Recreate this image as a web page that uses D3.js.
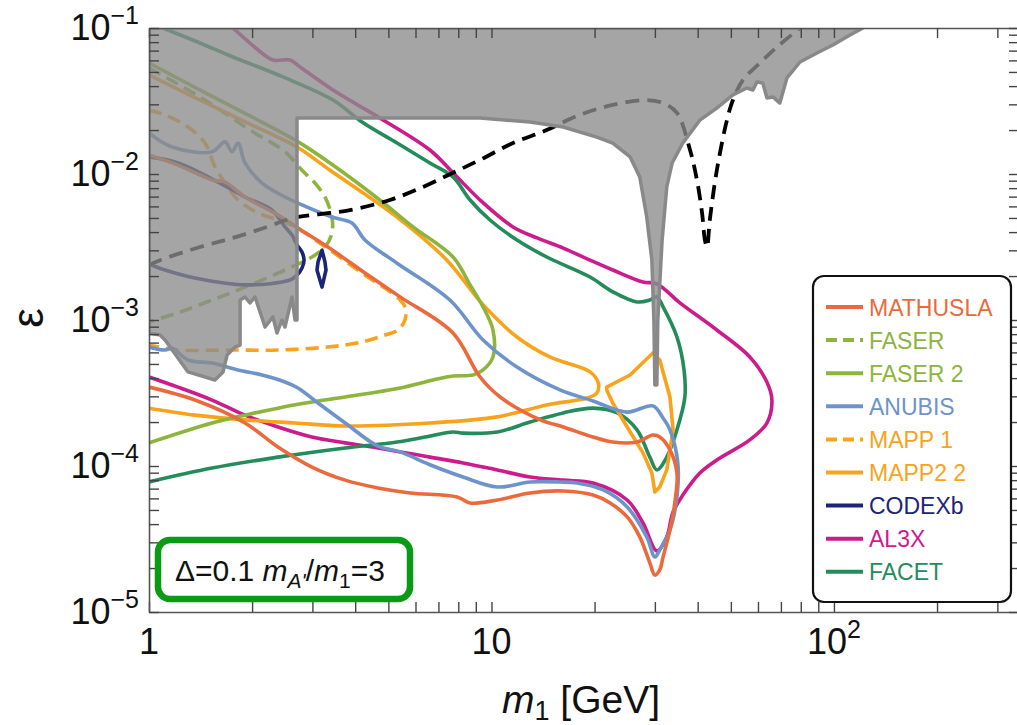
<!DOCTYPE html>
<html>
<head>
<meta charset="utf-8">
<script src="https://cdn.jsdelivr.net/npm/d3@7"></script>
<style>
  body { margin: 0; background: #fff; }
  text { font-family: "Liberation Sans", Arial, Helvetica, sans-serif; }
</style>
</head>
<body>
<svg id="chart" width="1017" height="725"></svg>
<script>
// values: [m1 in GeV, epsilon]
const mathusla = [[1.00,1.35e-2],[1.215,1.15e-2],[1.528,9.1e-3],[1.667,8.8e-3],[1.907,6.96e-3],[2.38,5.24e-3],[2.72,4.27e-3],[3.33,3.16e-3],[4.27,2.1e-3],[5.41,1.44e-3],[7.72,8.15e-4],[9.26,4.07e-4],[10.6,2.97e-4],[13.9,2.07e-4],[16.2,1.85e-4],[19.8,1.58e-4],[22.6,1.46e-4],[26.6,1.46e-4],[29.6,1.63e-4],[31.0,1.58e-4],[33.2,1.29e-4],[34.8,8.96e-5],[34.3,5.58e-5],[33.2,3.65e-5],[31.7,2.38e-5],[31.0,1.94e-5],[30.0,1.79e-5],[29.0,2.17e-5],[27.1,3.27e-5],[24.9,4.48e-5],[22.2,5.58e-5],[19.8,6.32e-5],[16.2,6.74e-5],[12.96,6.54e-5],[10.4,5.85e-5],[8.66,5.58e-5],[7.93,6.14e-5],[5.78,6.54e-5],[4.66,7.07e-5],[3.74,8.0e-5],[2.99,9.84e-5],[2.38,1.35e-4],[1.907,1.97e-4],[1.362,2.83e-4],[1.0,3.47e-4]];
const faser = [[1.0,5.32e-2],[1.409,3.37e-2],[1.972,2.0e-2],[2.495,1.42e-2],[2.797,1.06e-2],[3.053,8.67e-3],[3.265,6.96e-3],[3.42,5.07e-3],[3.42,3.94e-3],[3.265,3.16e-3],[2.99,2.70e-3],[2.615,2.31e-3],[1.907,1.68e-3],[1.528,1.37e-3],[1.215,1.12e-3],[1.0,9.7e-4]];
const faser2 = [[1.0,5.76e-2],[1.409,3.76e-2],[1.972,2.50e-2],[2.705,1.68e-2],[3.377,1.19e-2],[4.72,6.64e-3],[5.90,4.34e-3],[7.72,2.70e-3],[8.66,1.74e-3],[9.45,1.23e-3],[10.1,8.54e-4],[10.1,5.58e-4],[9.45,4.55e-4],[8.83,4.20e-4],[7.72,4.13e-4],[6.75,3.88e-4],[5.41,3.42e-4],[3.74,2.97e-4],[2.99,2.74e-4],[2.38,2.49e-4],[1.907,2.23e-4],[1.528,1.97e-4],[1.0,1.44e-4]];
const anubis = [[1.0,1.91e-2],[1.167,1.53e-2],[1.528,1.42e-2],[1.667,1.66e-2],[1.747,1.42e-2],[1.82,1.63e-2],[1.907,1.19e-2],[2.138,8.67e-3],[2.495,6.96e-3],[2.723,6.32e-3],[3.42,5.07e-3],[3.915,4.61e-3],[4.27,3.53e-3],[5.30,2.45e-3],[7.56,1.37e-3],[9.45,7.3e-4],[11.87,4.76e-4],[15.85,3.32e-4],[19.8,2.79e-4],[24.9,2.34e-4],[29.6,2.58e-4],[31.7,2.13e-4],[33.2,1.77e-4],[35.0,1.05e-4],[34.8,6.14e-5],[33.2,3.65e-5],[31.0,2.66e-5],[30.0,2.38e-5],[28.4,3.27e-5],[24.9,5.24e-5],[21.2,6.85e-5],[17.77,7.65e-5],[15.85,7.77e-5],[12.96,7.77e-5],[10.4,7.18e-5],[8.26,8.41e-5],[6.61,1.02e-4],[5.41,1.25e-4],[4.66,1.37e-4],[3.74,1.97e-4],[3.115,2.70e-4],[2.723,3.42e-4],[2.495,3.76e-4],[2.138,4.20e-4],[1.82,4.55e-4],[1.528,5.07e-4],[1.30,5.32e-4],[1.167,6.43e-4],[1.114,6.23e-4],[1.0,6.53e-4]];
const mapp1 = [[1.0,2.74e-2],[1.114,2.54e-2],[1.30,2.10e-2],[1.457,1.63e-2],[1.558,1.12e-2],[1.667,8.67e-3],[1.82,6.64e-3],[2.081,5.41e-3],[2.38,4.84e-3],[2.669,4.34e-3],[3.377,3.01e-3],[4.27,2.03e-3],[5.33,1.42e-3],[5.59,1.23e-3],[5.59,1e-3],[5.33,8.54e-4],[4.89,7.89e-4],[4.19,7.06e-4],[3.33,6.53e-4],[2.38,6.23e-4],[1.70,6.23e-4],[1.215,6.23e-4],[1.0,6.74e-4]];
const mapp2 = [[1.0,4.77e-2],[1.409,3.21e-2],[1.972,2.20e-2],[2.705,1.53e-2],[3.377,1.06e-2],[5.30,5.07e-3],[7.41,2.57e-3],[9.45,1.27e-3],[11.87,7.65e-4],[14.8,5.58e-4],[19.4,4.41e-4],[20.5,3.70e-4],[20.3,3.16e-4],[19.0,2.92e-4],[14.5,2.62e-4],[10.4,2.17e-4],[6.61,1.97e-4],[3.74,1.88e-4],[2.669,1.97e-4],[1.907,2.07e-4],[1.362,2.23e-4],[1.0,2.49e-4]];
const mapp2Lobe = [[21.7,3.47e-4],[25.4,4.20e-4],[29.6,5.94e-4],[31.0,5.32e-4],[33.2,2.97e-4],[33.9,1.77e-4],[32.5,9.4e-5],[31.0,7.18e-5],[30.0,6.64e-5],[29.4,8.96e-5],[27.7,1.23e-4],[24.9,1.85e-4],[22.6,2.70e-4],[21.7,3.32e-4]];
const codexb = [[1.0,1.31e-2],[1.215,1.19e-2],[1.59,8.81e-3],[1.907,6.96e-3],[2.286,5.66e-3],[2.495,4.34e-3],[2.615,3.82e-3],[2.705,3.27e-3],[2.797,2.92e-3],[2.836,2.57e-3],[2.797,2.27e-3],[2.705,2.03e-3],[2.58,1.88e-3],[1.907,1.74e-3],[1.362,1.94e-3],[1.114,2.2e-3],[1.0,2.42e-3]];
const codexbLens = [[3.20,3.01e-3],[3.115,2.49e-3],[3.094,2.2e-3],[3.20,1.68e-3],[3.287,2.2e-3],[3.265,2.49e-3]];
const al3x = [[1.759,1e-1],[1.972,7.89e-2],[2.30,6.04e-2],[2.582,6.04e-2],[2.761,5.41e-2],[3.445,3.76e-2],[4.72,2.42e-2],[6.61,1.46e-2],[7.72,1.02e-2],[9.26,6.64e-3],[11.56,4.34e-3],[13.58,3.65e-3],[16.2,3.11e-3],[19.4,2.57e-3],[22.6,2.2e-3],[27.7,1.82e-3],[30.4,1.77e-3],[35.5,1.31e-3],[45.5,8.54e-4],[56.8,5.58e-4],[63.7,3.76e-4],[65.9,2.83e-4],[63.7,1.97e-4],[56.8,1.51e-4],[45.5,1.1e-4],[40.6,8.96e-5],[36.2,6.32e-5],[33.9,4.84e-5],[32.5,3.27e-5],[30.4,2.62e-5],[27.7,4.07e-5],[24.9,5.85e-5],[19.8,7.65e-5],[16.2,8.0e-5],[12.96,8.41e-5],[10.4,9.4e-5],[8.26,1.05e-4],[6.61,1.15e-4],[4.66,1.33e-4],[3.74,1.44e-4],[2.99,1.58e-4],[2.38,1.85e-4],[1.907,2.23e-4],[1.528,2.83e-4],[1.215,3.47e-4],[1.0,4.07e-4]];
const facet = [[1.099,1e-1],[1.409,7.89e-2],[1.759,6.33e-2],[2.462,4.62e-2],[3.445,3.21e-2],[4.22,2.24e-2],[5.30,1.63e-2],[6.61,1.19e-2],[7.72,9.54e-3],[8.66,6.64e-3],[9.90,4.84e-3],[11.87,3.53e-3],[14.5,2.70e-3],[19.4,1.97e-3],[22.6,1.56e-3],[26.6,1.33e-3],[29.0,1.37e-3],[30.4,1.44e-3],[31.7,1.23e-3],[34.8,7.65e-4],[36.5,4.55e-4],[36.7,2.97e-4],[34.8,1.77e-4],[32.5,1.15e-4],[30.4,9.4e-5],[29.0,1.15e-4],[26.6,1.77e-4],[23.3,2.31e-4],[19.8,2.49e-4],[16.2,2.31e-4],[12.96,2.0e-4],[10.4,1.71e-4],[8.26,1.68e-4],[7.72,1.71e-4],[6.40,1.58e-4],[5.30,1.46e-4],[3.74,1.33e-4],[2.38,1.15e-4],[1.528,9.68e-5],[1.0,7.78e-5]];
const blackDashed = [[1.0,2.38e-3],[1.077,2.57e-3],[1.409,3.16e-3],[1.759,3.65e-3],[2.211,4.34e-3],[2.633,5.0e-3],[3.377,5.41e-3],[3.86,5.66e-3],[5.05,6.64e-3],[6.31,8.15e-3],[7.72,1.02e-2],[9.26,1.25e-2],[11.56,1.63e-2],[14.5,2.0e-2],[18.1,2.54e-2],[22.6,2.97e-2],[28.4,3.21e-2],[31.7,3.06e-2],[34.8,2.62e-2],[38.0,1.46e-2],[39.8,9.1e-3],[41.2,5.41e-3],[42.0,3.53e-3],[42.6,3.16e-3],[43.4,4.84e-3],[45.5,1.06e-2],[48.7,2.34e-2],[50.7,3.21e-2],[54.2,4.40e-2],[60.8,5.76e-2],[68.2,7.41e-2],[79.6,1e-1]];
const excluded = [[1,0.1],[121.5,0.1],[111.4,8.95e-2],[99.3,7.65e-2],[89.2,6.74e-2],[79.6,5.85e-2],[72.9,4.55e-2],[69.5,3.06e-2],[66.4,3.37e-2],[63.7,3.32e-2],[62.0,4.2e-2],[59.6,4.27e-2],[58.0,3.76e-2],[55.7,3.88e-2],[50.7,3.48e-2],[45.5,2.83e-2],[40.6,2.34e-2],[36.2,1.63e-2],[33.7,1.19e-2],[32.5,8.15e-3],[31.5,3.53e-3],[30.6,1e-3],[30.4,3.59e-4],[30.0,3.59e-4],[29.8,1e-3],[29.4,2.57e-3],[28.4,5.07e-3],[27.1,9.54e-3],[25.4,1.31e-2],[22.6,1.63e-2],[20.3,1.79e-2],[16.2,2.10e-2],[12.96,2.27e-2],[9.26,2.42e-2],[2.705,2.42e-2],[2.705,1e-3],[2.669,1e-3],[2.615,1.437e-3],[2.495,8.95e-4],[2.445,1e-3],[2.365,8.15e-4],[2.30,1.05e-3],[2.182,8.95e-4],[2.04,1.437e-3],[1.972,1.31e-3],[1.907,1.437e-3],[1.845,1.37e-3],[1.845,6.74e-4],[1.783,6.53e-4],[1.69,5.75e-4],[1.645,4.41e-4],[1.558,3.88e-4],[1.30,4.41e-4],[1.114,7.3e-4],[1.077,7.89e-4],[1.0,8.15e-4]];

const seriesNames = ["MATHUSLA", "FASER", "FASER 2", "ANUBIS", "MAPP 1", "MAPP2 2", "CODEXb", "AL3X", "FACET"];
const seriesColors = ["#EA6A3C", "#8DB43C", "#8DB43C", "#6C94CA", "#F9A31C", "#F9A31C", "#1D2378", "#CC1B8D", "#248C5B"];
const seriesDashed = [false, true, false, false, true, false, false, false, false];
const seriesData = [[mathusla], [faser], [faser2], [anubis], [mapp1], [mapp2], [codexb], [al3x], [facet]];
const closedPieces = [[], [], [], [], [], [mapp2Lobe], [codexbLens], [], []];
const drawOrder = [7, 8, 4, 1, 6, 5, 2, 3, 0];

const yTickExps = [-1, -2, -3, -4, -5];
const xTickLabels = [{v: 1, base: "1", sup: ""}, {v: 10, base: "10", sup: ""}, {v: 100, base: "10", sup: "2"}];

const svg = d3.select("#chart");
const L = 149, R = 1019, T = 28, B = 612;

const x = d3.scaleLog().domain([1, 347]).range([L, R]);
const y = d3.scaleLog().domain([1e-5, 1e-1]).range([B, T]);

svg.append("defs").append("clipPath").attr("id", "plotclip")
  .append("rect").attr("x", L).attr("y", T).attr("width", R - L).attr("height", B - T);

const plot = svg.append("g").attr("clip-path", "url(#plotclip)");

const smooth = d3.line().x(d => x(d[0])).y(d => y(d[1])).curve(d3.curveCatmullRom.alpha(0.5));
const closed = d3.line().x(d => x(d[0])).y(d => y(d[1])).curve(d3.curveLinearClosed);

// coloured sensitivity curves
drawOrder.forEach(i => {
  seriesData[i].forEach(pts => {
    plot.append("path").attr("d", smooth(pts))
      .attr("fill", "none").attr("stroke", seriesColors[i]).attr("stroke-width", 3.6)
      .attr("stroke-linejoin", "round")
      .attr("stroke-dasharray", seriesDashed[i] ? "13,7" : null);
  });
  closedPieces[i].forEach(pts => {
    plot.append("path").attr("d", closed(pts))
      .attr("fill", "none").attr("stroke", seriesColors[i]).attr("stroke-width", 3.6)
      .attr("stroke-linejoin", "round");
  });
});

plot.append("path").attr("d", smooth(blackDashed))
  .attr("fill", "none").attr("stroke", "#000").attr("stroke-width", 3.8)
  .attr("stroke-dasharray", "14,8");

// excluded region, drawn over the curves
plot.append("path").attr("d", closed(excluded))
  .attr("fill", "#8c8c8c").attr("fill-opacity", 0.78)
  .attr("stroke", "#898989").attr("stroke-width", 3.5).attr("stroke-linejoin", "round");

// ticks on all four sides, pointing inward
const xTicks = [], yTicks = [];
for (let n = 0; n <= 2; n++) for (let k = 1; k <= 9; k++) if (k * Math.pow(10, n) <= 347) xTicks.push(k * Math.pow(10, n));
for (let n = -5; n <= -2; n++) for (let k = 1; k <= 9; k++) yTicks.push(k * Math.pow(10, n));
yTicks.push(0.1);

function styleAxis(g) {
  g.select(".domain").attr("stroke", "#555").attr("stroke-width", 1.6);
  g.selectAll(".tick line").attr("stroke", "#444").attr("stroke-width", 1.4);
  g.selectAll(".tick text").remove();
}
svg.append("g").attr("transform", `translate(0,${B})`)
  .call(d3.axisBottom(x).tickValues(xTicks).tickSizeInner(-10).tickSizeOuter(0).tickFormat("")).call(styleAxis);
svg.append("g").attr("transform", `translate(0,${T})`)
  .call(d3.axisTop(x).tickValues(xTicks).tickSizeInner(-10).tickSizeOuter(0).tickFormat("")).call(styleAxis);
svg.append("g").attr("transform", `translate(${L},0)`)
  .call(d3.axisLeft(y).tickValues(yTicks).tickSizeInner(-10).tickSizeOuter(0).tickFormat("")).call(styleAxis);
svg.append("g").attr("transform", `translate(${R},0)`)
  .call(d3.axisRight(y).tickValues(yTicks).tickSizeInner(-10).tickSizeOuter(0).tickFormat("")).call(styleAxis);

// tick labels
yTickExps.forEach(e => {
  const t = svg.append("text").attr("x", 139).attr("y", y(Math.pow(10, e)) + 12)
    .attr("text-anchor", "end").attr("font-size", 36).attr("fill", "#111").text("10");
  t.append("tspan").attr("dy", -16).attr("font-size", 25).text("\u2212" + (-e));
});
xTickLabels.forEach(d => {
  const t = svg.append("text").attr("x", x(d.v)).attr("y", 654)
    .attr("text-anchor", "middle").attr("font-size", 36).attr("fill", "#111").text(d.base);
  if (d.sup) t.append("tspan").attr("dy", -16).attr("font-size", 25).text(d.sup);
});

// axis titles
const xt = svg.append("text").attr("x", 502).attr("y", 713).attr("font-size", 39).attr("fill", "#111");
xt.append("tspan").attr("font-style", "italic").text("m");
xt.append("tspan").attr("font-size", 27).attr("dy", 7).text("1");
xt.append("tspan").attr("dy", -7).text(" [GeV]");

svg.append("text").attr("transform", "translate(43,318) rotate(-90)")
  .attr("text-anchor", "middle").attr("font-size", 44).attr("fill", "#111").text("\u03b5");

// legend
const lg = svg.append("g");
lg.append("rect").attr("x", 813).attr("y", 276).attr("width", 198).attr("height", 326)
  .attr("rx", 11).attr("fill", "#fff").attr("stroke", "#111").attr("stroke-width", 2.2);
seriesNames.forEach((name, i) => {
  const cy = 307 + i * 33.1;
  lg.append("line").attr("x1", 826).attr("x2", 863).attr("y1", cy).attr("y2", cy)
    .attr("stroke", seriesColors[i]).attr("stroke-width", 4)
    .attr("stroke-dasharray", seriesDashed[i] ? "11,6" : null);
  lg.append("text").attr("x", 869).attr("y", cy + 8.5).attr("font-size", 23)
    .attr("fill", seriesColors[i]).text(name);
});

// parameter box
svg.append("rect").attr("x", 158).attr("y", 540).attr("width", 252).attr("height", 59)
  .attr("rx", 12).attr("fill", "#fff").attr("stroke", "#0A9A14").attr("stroke-width", 6.5);
const ann = svg.append("text").attr("x", 175).attr("y", 581).attr("font-size", 30).attr("fill", "#111");
ann.append("tspan").text("\u0394=0.1 ");
ann.append("tspan").attr("font-style", "italic").text("m");
ann.append("tspan").attr("font-style", "italic").attr("font-size", 21).attr("dy", 7).text("A'");
ann.append("tspan").attr("dy", -7).text("/");
ann.append("tspan").attr("font-style", "italic").text("m");
ann.append("tspan").attr("font-size", 21).attr("dy", 7).text("1");
ann.append("tspan").attr("dy", -7).text("=3");
</script>
</body>
</html>
